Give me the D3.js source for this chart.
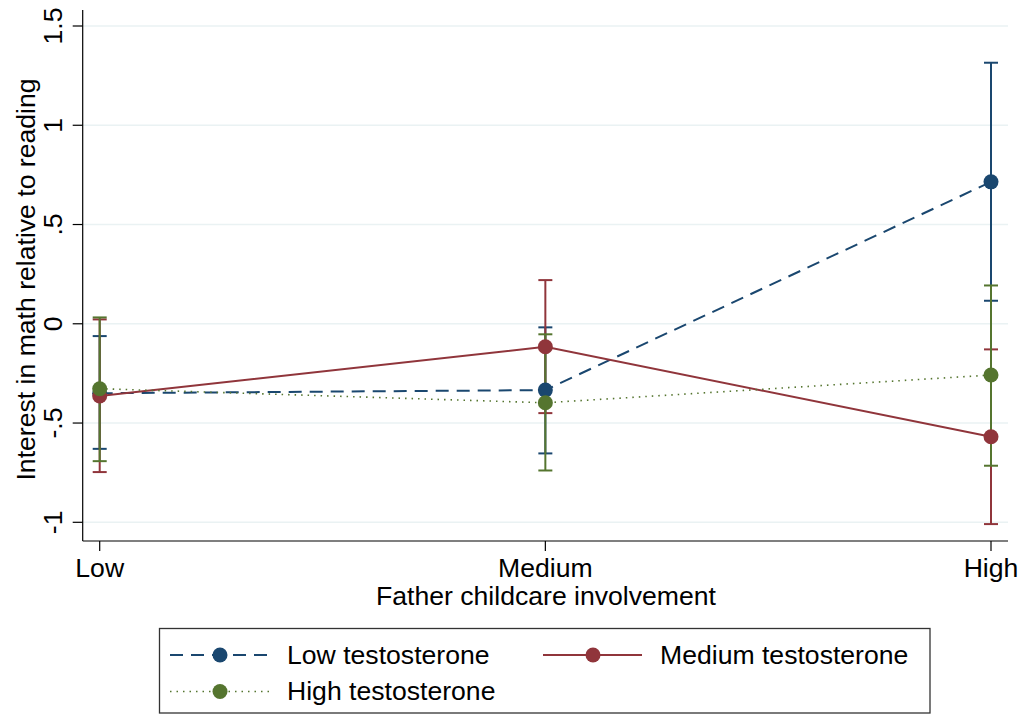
<!DOCTYPE html>
<meta charset="utf-8">
<style>
body { margin: 0; background: #fff; }
svg text { font-family: "Liberation Sans", Arial, Helvetica, sans-serif; fill: #000; }
.grid line { stroke: #eaf2f3; stroke-width: 1.5px; }
.axis path, .axis line { stroke: #000; stroke-width: 1.2px; }
</style>
<body>
<script src="https://d3js.org/d3.v7.min.js"></script>
<script>
// categories and tick labels
var categories = ["Low", "Medium", "High"];
var yTicks = [-1, -0.5, 0, 0.5, 1, 1.5];
var yTickLabels = ["-1", "-.5", "0", ".5", "1", "1.5"];

// margins: estimate, lower CI, upper CI for each category
var lowT  = [-0.350, -0.334, 0.715];
var lowTLo = [-0.630, -0.653, 0.116];
var lowTHi = [-0.062, -0.018, 1.315];

var medT  = [-0.364, -0.116, -0.569];
var medTLo = [-0.747, -0.450, -1.009];
var medTHi = [0.022, 0.220, -0.129];

var highT  = [-0.327, -0.398, -0.258];
var highTLo = [-0.692, -0.739, -0.715];
var highTHi = [0.032, -0.053, 0.193];

var seriesNames = ["Low testosterone", "Medium testosterone", "High testosterone"];

var series = [
  {name: seriesNames[0], est: lowT, lo: lowTLo, hi: lowTHi, color: "#1a476f", dash: "13,8", sw: 2},
  {name: seriesNames[1], est: medT, lo: medTLo, hi: medTHi, color: "#90353b", dash: null, sw: 2},
  {name: seriesNames[2], est: highT, lo: highTLo, hi: highTHi, color: "#55752f", dash: "1.5,5", sw: 1.6}
];

var W = 1023, H = 714, fs = "26.6px";
var svg = d3.select("body").append("svg").attr("width", W).attr("height", H);

var x = d3.scalePoint().domain(categories).range([99.7, 991]);
var y = d3.scaleLinear().domain([-1, 1.5]).range([522.3, 26]);

var plotLeft = 82.7, plotRight = 1008, plotTop = 10, plotBottom = 541;

// gridlines
svg.append("g").attr("class", "grid")
  .selectAll("line").data(yTicks).enter().append("line")
  .attr("x1", plotLeft).attr("x2", plotRight)
  .attr("y1", function(d) { return y(d); })
  .attr("y2", function(d) { return y(d); });

// y axis
var yAxis = svg.append("g").attr("class", "axis")
  .attr("transform", "translate(" + plotLeft + ",0)");
yAxis.append("line").attr("y1", plotTop).attr("y2", plotBottom);
yAxis.selectAll(".tick").data(yTicks).enter().append("line")
  .attr("x1", -10).attr("x2", 0)
  .attr("y1", function(d) { return y(d); })
  .attr("y2", function(d) { return y(d); });
yAxis.selectAll("text").data(yTicks).enter().append("text")
  .attr("transform", function(d) { return "translate(-21," + y(d) + ") rotate(-90)"; })
  .attr("text-anchor", "middle")
  .style("font-size", fs)
  .text(function(d, i) { return yTickLabels[i]; });

// x axis
var xAxis = svg.append("g").attr("class", "axis")
  .attr("transform", "translate(0," + plotBottom + ")");
xAxis.append("line").attr("x1", plotLeft).attr("x2", plotRight);
xAxis.selectAll(".tick").data(categories).enter().append("line")
  .attr("x1", function(d) { return x(d); })
  .attr("x2", function(d) { return x(d); })
  .attr("y1", 0).attr("y2", 10);
xAxis.selectAll("text").data(categories).enter().append("text")
  .attr("x", function(d) { return x(d); })
  .attr("y", 36)
  .attr("text-anchor", "middle")
  .style("font-size", fs)
  .text(function(d) { return d; });

// axis titles
svg.append("text")
  .attr("x", 546).attr("y", 605)
  .attr("text-anchor", "middle")
  .style("font-size", fs)
  .text("Father childcare involvement");
svg.append("text")
  .attr("transform", "translate(35," + ((plotTop + plotBottom) / 2 + 4) + ") rotate(-90)")
  .attr("text-anchor", "middle")
  .style("font-size", fs)
  .text("Interest in math relative to reading");

// confidence intervals
series.forEach(function(s) {
  var g = svg.append("g").attr("stroke", s.color).attr("stroke-width", 2);
  categories.forEach(function(c, i) {
    g.append("line").attr("x1", x(c)).attr("x2", x(c))
      .attr("y1", y(s.lo[i])).attr("y2", y(s.hi[i]));
    g.append("line").attr("x1", x(c) - 7).attr("x2", x(c) + 7)
      .attr("y1", y(s.lo[i])).attr("y2", y(s.lo[i]));
    g.append("line").attr("x1", x(c) - 7).attr("x2", x(c) + 7)
      .attr("y1", y(s.hi[i])).attr("y2", y(s.hi[i]));
  });
});

// connected lines and markers
var line = d3.line()
  .x(function(d) { return x(d.c); })
  .y(function(d) { return y(d.v); });

series.forEach(function(s) {
  var pts = categories.map(function(c, i) { return {c: c, v: s.est[i]}; });
  svg.append("path")
    .attr("d", line(pts))
    .attr("fill", "none")
    .attr("stroke", s.color)
    .attr("stroke-width", s.sw)
    .attr("stroke-dasharray", s.dash);
  svg.selectAll(null).data(pts).enter().append("circle")
    .attr("cx", function(d) { return x(d.c); })
    .attr("cy", function(d) { return y(d.v); })
    .attr("r", 7.5)
    .attr("fill", s.color);
});

// legend
var legend = svg.append("g");
legend.append("rect")
  .attr("x", 159.5).attr("y", 628.5).attr("width", 770.5).attr("height", 84.5)
  .attr("fill", "#fff").attr("stroke", "#333").attr("stroke-width", 1.3);

var legendPos = [{x: 170, y: 655}, {x: 543, y: 655}, {x: 170, y: 691.5}];
series.forEach(function(s, i) {
  var p = legendPos[i];
  legend.append("line")
    .attr("x1", p.x).attr("x2", p.x + 99)
    .attr("y1", p.y).attr("y2", p.y)
    .attr("stroke", s.color).attr("stroke-width", s.sw)
    .attr("stroke-dasharray", s.dash);
  legend.append("circle")
    .attr("cx", p.x + 50).attr("cy", p.y).attr("r", 7.5).attr("fill", s.color);
  legend.append("text")
    .attr("x", p.x + 117).attr("y", p.y + 8.5)
    .style("font-size", fs)
    .text(s.name);
});
</script>
</body>
